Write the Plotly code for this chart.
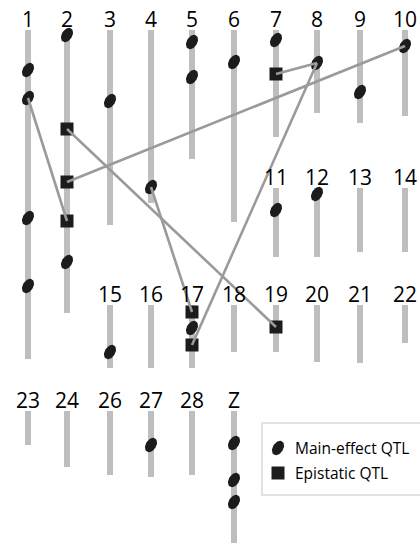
import numpy as np
import plotly.graph_objects as go

# ---------------- data ----------------
chrom_names = ["1", "2", "3", "4", "5", "6", "7", "8", "9", "10",
               "11", "12", "13", "14",
               "15", "16", "17", "18", "19", "20", "21", "22",
               "23", "24", "26", "27", "28", "Z"]
chrom_lengths = [329, 283, 195, 173, 129, 192, 107, 83, 93, 86,
                 69, 69, 64, 64,
                 63, 63, 63, 47, 47, 57, 58, 38,
                 34, 56, 64, 66, 64, 140]

main_chrom = ["1", "1", "1", "1", "2", "2", "3", "4", "5", "5", "6", "7", "8",
              "9", "10", "11", "12", "15", "17", "27", "Z", "Z", "Z"]
main_pos = [40, 68, 188, 256, 5, 232, 71, 157, 12, 47, 32, 10, 33,
            62, 16, 22, 6, 47, 23, 34, 32, 69, 91]

epi_chrom = ["2", "2", "2", "7", "17", "17", "19"]
epi_pos = [99, 152, 191, 44, 7, 40, 22]

# epistatic interactions: (chromosome, position) pairs
inter_a_chrom = ["1", "2", "2", "4", "7", "8"]
inter_a_pos = [68, 99, 152, 157, 44, 33]
inter_b_chrom = ["2", "19", "10", "17", "8", "17"]
inter_b_pos = [191, 22, 16, 7, 33, 40]

legend_labels = ["Main-effect QTL", "Epistatic QTL"]

# ---------------- layout (style) ----------------
W, H = 420, 543
COL_X = [28, 67, 110, 151, 192, 234, 276, 317, 360, 405]
ROW_TOP = [30, 188, 305, 411]
chrom_col = list(range(10)) + [6, 7, 8, 9] + list(range(2, 10)) + [0, 1, 2, 3, 4, 5]
chrom_row = [0] * 10 + [1] * 4 + [2] * 8 + [3] * 6

BAR_COLOR = "#bebebe"
MARK_COLOR = "#1c1c1c"
LINK_COLOR = "#9a9a9a"
FONT = "Open Sans"

idx = {n: i for i, n in enumerate(chrom_names)}


def locate(ch, pos):
    i = idx[ch]
    return COL_X[chrom_col[i]], ROW_TOP[chrom_row[i]] + pos


def ellipse_pts(cx, cy, a=5.2, b=7.8, phi=np.radians(32), n=40):
    t = np.linspace(0, 2 * np.pi, n)
    xs = cx + a * np.cos(t) * np.cos(phi) + b * np.sin(t) * np.sin(phi)
    ys = cy + a * np.cos(t) * np.sin(phi) - b * np.sin(t) * np.cos(phi)
    return list(xs), list(ys)


fig = go.Figure()

# chromosome bars
bar_x = [COL_X[c] for c in chrom_col]
bar_base = [ROW_TOP[r] for r in chrom_row]
fig.add_trace(go.Bar(x=bar_x, y=chrom_lengths, base=bar_base, width=6,
                     marker=dict(color=BAR_COLOR, line=dict(width=0)),
                     hoverinfo="skip"))

# main-effect QTL ellipses
ex, ey = [], []
for ch, p in zip(main_chrom, main_pos):
    cx, cy = locate(ch, p)
    xs, ys = ellipse_pts(cx, cy)
    ex += xs + [None]
    ey += ys + [None]
fig.add_trace(go.Scatter(x=ex, y=ey, mode="lines", fill="toself",
                         fillcolor=MARK_COLOR, line=dict(width=0, color=MARK_COLOR),
                         hoverinfo="skip"))

# epistatic QTL squares
sq = [locate(c, p) for c, p in zip(epi_chrom, epi_pos)]
fig.add_trace(go.Scatter(x=[s[0] for s in sq], y=[s[1] for s in sq], mode="markers",
                         marker=dict(symbol="square", size=13, color=MARK_COLOR,
                                     line=dict(width=0)),
                         hoverinfo="skip"))

# interaction links
lx, ly = [], []
for ca, pa, cb, pb in zip(inter_a_chrom, inter_a_pos, inter_b_chrom, inter_b_pos):
    xa, ya = locate(ca, pa)
    xb, yb = locate(cb, pb)
    lx += [xa, xb, None]
    ly += [ya, yb, None]
fig.add_trace(go.Scatter(x=lx, y=ly, mode="lines",
                         line=dict(color=LINK_COLOR, width=2.6), hoverinfo="skip"))

# chromosome labels
annotations = []
for i, n in enumerate(chrom_names):
    annotations.append(dict(x=COL_X[chrom_col[i]], y=ROW_TOP[chrom_row[i]] - 11,
                            text=n, showarrow=False, xanchor="center", yanchor="middle",
                            font=dict(family=FONT, size=21, color="black")))

# legend (drawn manually)
LEG_X0, LEG_Y0, LEG_X1, LEG_Y1 = 262, 423, 432, 495
leg_y = [448, 473]
lxs, lys = ellipse_pts(278, leg_y[0])
fig.add_trace(go.Scatter(x=lxs, y=lys, mode="lines", fill="toself",
                         fillcolor=MARK_COLOR, line=dict(width=0, color=MARK_COLOR),
                         hoverinfo="skip"))
fig.add_trace(go.Scatter(x=[278], y=[leg_y[1]], mode="markers",
                         marker=dict(symbol="square", size=13, color=MARK_COLOR,
                                     line=dict(width=0)),
                         hoverinfo="skip"))
for yy, t in zip(leg_y, legend_labels):
    annotations.append(dict(x=293, y=yy, text=t, showarrow=False, xanchor="left",
                            yanchor="middle",
                            font=dict(family=FONT, size=15.5, color="black")))

fig.update_layout(
    width=W, height=H, margin=dict(l=0, r=0, t=0, b=0),
    paper_bgcolor="white", plot_bgcolor="white", showlegend=False,
    xaxis=dict(range=[0, W], visible=False, fixedrange=True),
    yaxis=dict(range=[H, 0], visible=False, fixedrange=True),
    annotations=annotations,
    shapes=[dict(type="rect", xref="x", yref="y", x0=LEG_X0, x1=LEG_X1,
                 y0=LEG_Y0, y1=LEG_Y1, line=dict(color="#e2e2e2", width=2),
                 fillcolor="rgba(0,0,0,0)", layer="below")],
    hovermode=False,
)

fig.write_html("out.html", config={"displayModeBar": False},
               post_script="document.body.style.margin='0px';"
                           "document.body.style.overflow='hidden';")
